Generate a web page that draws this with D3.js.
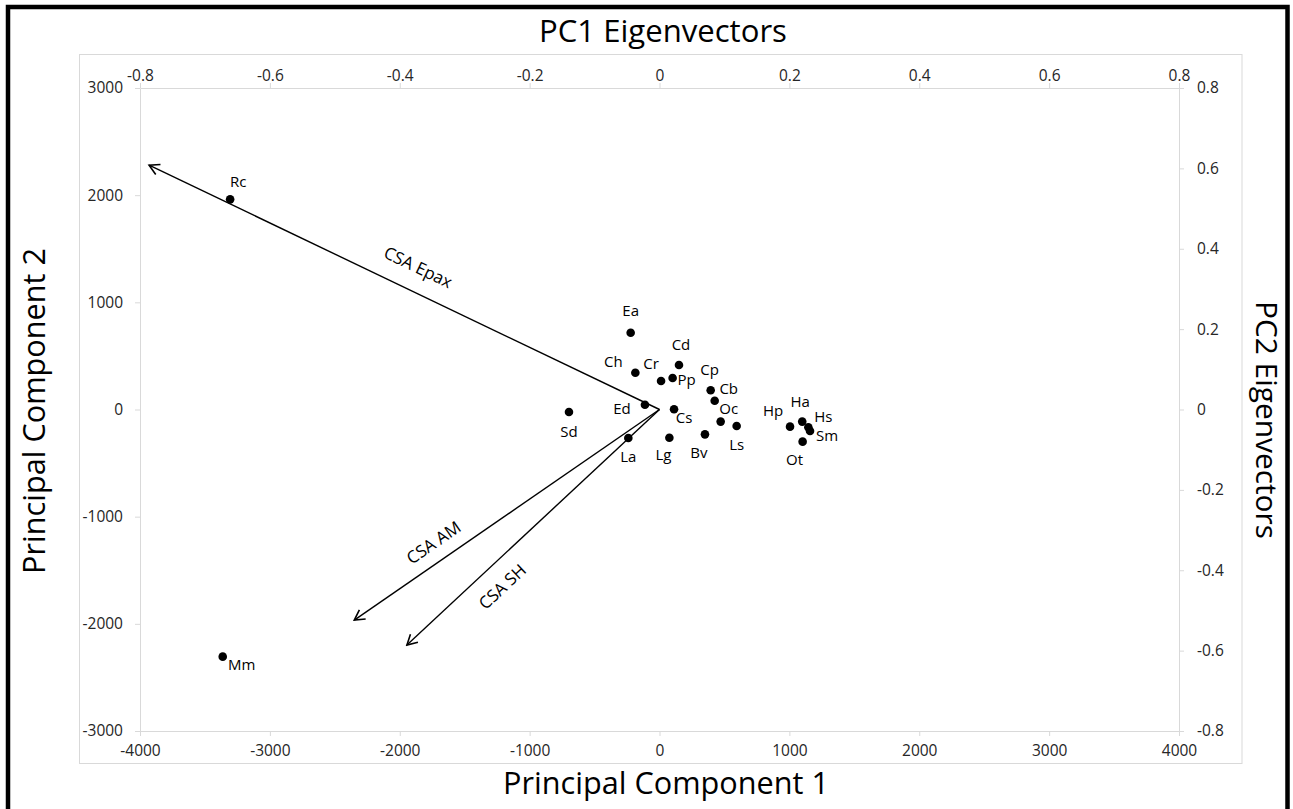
<!DOCTYPE html>
<html>
<head>
<meta charset="utf-8">
<script src="https://cdn.jsdelivr.net/npm/d3@7"></script>
<style>
  html, body { margin: 0; padding: 0; background: #fff; }
  svg { display: block; }
</style>
</head>
<body>
<svg id="chart" width="1293" height="809"></svg>
<script>
// ---------- data ----------
const species = ["Rc","Mm","Ea","Cd","Ch","Cr","Pp","Cp","Cb","Ed","Cs","Oc","Ls","Bv","Lg","La","Sd","Hp","Ha","Hs","Sm","Ot"];
const pc1 = [-3306,-3363,-222,150,-186,12,101,394,425,-112,112,471,594,350,76,-240,-697,1005,1099,1146,1159,1102];
const pc2 = [1961,-2306,716,415,343,266,294,179,82,45,2,-113,-154,-232,-263,-266,-23,-160,-113,-166,-201,-300];

const variables = ["CSA Epax","CSA AM","CSA SH"];
const ev1 = [-0.786,-0.470,-0.389];
const ev2 = [0.608,-0.524,-0.586];

const pc1Ticks = [-4000,-3000,-2000,-1000,0,1000,2000,3000,4000];
const pc2Ticks = [-3000,-2000,-1000,0,1000,2000,3000];
const evTicks = [-0.8,-0.6,-0.4,-0.2,0,0.2,0.4,0.6,0.8];
const evTickLabels = ["-0.8","-0.6","-0.4","-0.2","0","0.2","0.4","0.6","0.8"];

// ---------- presentation (label placement, pixels) ----------
const labelOffset = {
  Rc:[8,-18], Mm:[19,8], Ea:[0,-22], Cd:[2,-20], Ch:[-22,-11], Cr:[-10,-17], Pp:[14,2],
  Cp:[-1,-21], Cb:[14,-12], Ed:[-23,4], Cs:[10,8], Oc:[8,-13], Ls:[0,19], Bv:[-6,18],
  Lg:[-6,17], La:[0,19], Sd:[0,20], Hp:[-17,-16], Ha:[-2,-20], Hs:[15,-11], Sm:[17,5], Ot:[-8,18]
};
const vecLabelPlace = { "CSA Epax":[0.473,-26.6], "CSA AM":[0.740,-22.7], "CSA SH":[0.622,30.8] };

const FONT = "'Open Sans', 'Noto Sans', sans-serif";
const svg = d3.select("#chart");

// outer black frame
svg.append("rect").attr("x",8).attr("y",7).attr("width",1279.5).attr("height",830)
  .attr("fill","none").attr("stroke","#000").attr("stroke-width",4.5);
// inner chart-area frame
svg.append("rect").attr("x",79.5).attr("y",54.5).attr("width",1162.5).attr("height",709)
  .attr("fill","none").attr("stroke","#d9d9d9").attr("stroke-width",1);

const x = d3.scaleLinear().domain([-4000,4000]).range([140,1179]);
const y = d3.scaleLinear().domain([-3000,3000]).range([731,88]);
const x2 = d3.scaleLinear().domain([-0.8,0.8]).range([140,1179]);
const y2 = d3.scaleLinear().domain([-0.8,0.8]).range([731,88]);

function styleAxis(g){
  g.select(".domain").attr("stroke","#d9d9d9").attr("stroke-width",1);
  g.selectAll(".tick line").attr("stroke","#d9d9d9");
  g.selectAll(".tick text").attr("fill","#262626").style("font-family",FONT).style("font-size","15.5px");
}
const intLabel = d => String(d);

svg.append("g").attr("transform","translate(0,731)")
  .call(d3.axisBottom(x).tickValues(pc1Ticks).tickFormat(intLabel).tickSize(5).tickSizeOuter(0).tickPadding(9))
  .call(styleAxis);
svg.append("g").attr("transform","translate(140,0)")
  .call(d3.axisLeft(y).tickValues(pc2Ticks).tickFormat(intLabel).tickSize(5).tickSizeOuter(0).tickPadding(12))
  .call(styleAxis);
svg.append("g").attr("transform","translate(0,88)")
  .call(d3.axisTop(x2).tickValues(evTicks).tickFormat((d,i)=>evTickLabels[i]).tickSize(5).tickSizeOuter(0).tickPadding(2))
  .call(styleAxis);
svg.append("g").attr("transform","translate(1179,0)")
  .call(d3.axisRight(y2).tickValues(evTicks).tickFormat((d,i)=>evTickLabels[i]).tickSize(5).tickSizeOuter(0).tickPadding(13))
  .call(styleAxis);

// titles, sized to match target widths
function fitTitle(t, target){
  t.style("font-size","100px");
  const w = t.node().getComputedTextLength();
  t.style("font-size",(100*target/w)+"px");
}
const titleStyle = s => s.attr("text-anchor","middle").attr("fill","#000").style("font-family",FONT);
fitTitle(svg.append("text").attr("x",663).attr("y",41.5).text("PC1 Eigenvectors").call(titleStyle), 248);
fitTitle(svg.append("text").attr("x",666).attr("y",794).text("Principal Component 1").call(titleStyle), 326);
fitTitle(svg.append("text").attr("transform","translate(45,411) rotate(-90)").text("Principal Component 2").call(titleStyle), 326);
fitTitle(svg.append("text").attr("transform","translate(1256,420) rotate(90)").text("PC2 Eigenvectors").call(titleStyle), 238);

// arrow marker
svg.append("defs").append("marker")
  .attr("id","arrow").attr("markerUnits","userSpaceOnUse")
  .attr("viewBox","-12 -7 14 14").attr("refX",0).attr("refY",0)
  .attr("markerWidth",14).attr("markerHeight",14).attr("orient","auto")
  .append("path").attr("d","M-10,-5.5 L0,0 L-10,5.5").attr("fill","none")
  .attr("stroke","#000").attr("stroke-width",1.6);

// eigenvector arrows
const vecs = variables.map((v,i)=>({name:v, a:ev1[i], b:ev2[i]}));
svg.append("g").selectAll("line").data(vecs).join("line")
  .attr("x1",x2(0)).attr("y1",y2(0))
  .attr("x2",d=>x2(d.a)).attr("y2",d=>y2(d.b))
  .attr("stroke","#000").attr("stroke-width",1.4)
  .attr("marker-end","url(#arrow)");

svg.append("g").selectAll("text").data(vecs).join("text")
  .attr("transform",d=>{
    const [t,off] = vecLabelPlace[d.name];
    const x0 = x2(0), y0 = y2(0), x1 = x2(d.a), y1 = y2(d.b);
    const px = x0 + (x1-x0)*t, py = y0 + (y1-y0)*t + off;
    let ang = Math.atan2(y1-y0, x1-x0)*180/Math.PI;
    if (ang > 90) ang -= 180; else if (ang < -90) ang += 180;
    return `translate(${px},${py}) rotate(${ang})`;
  })
  .attr("text-anchor","middle").attr("dy","0.35em")
  .attr("fill","#000").style("font-family",FONT).style("font-size","17px")
  .text(d=>d.name);

// species points
const pts = species.map((s,i)=>({name:s, px:pc1[i], py:pc2[i]}));
svg.append("g").selectAll("circle").data(pts).join("circle")
  .attr("cx",d=>x(d.px)).attr("cy",d=>y(d.py)).attr("r",4.3).attr("fill","#000");
svg.append("g").selectAll("text").data(pts).join("text")
  .attr("x",d=>x(d.px)+labelOffset[d.name][0])
  .attr("y",d=>y(d.py)+labelOffset[d.name][1])
  .attr("text-anchor","middle").attr("dy","0.35em")
  .attr("fill","#000").style("font-family",FONT).style("font-size","15px")
  .text(d=>d.name);
</script>
</body>
</html>
